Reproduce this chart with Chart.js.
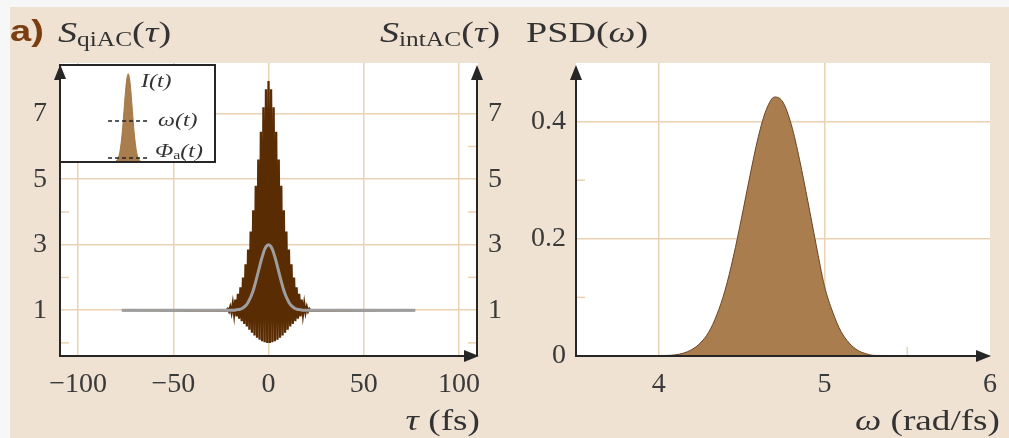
<!DOCTYPE html>
<html>
<head>
<meta charset="utf-8">
<script src="https://cdn.jsdelivr.net/npm/chart.js@4.4.1/dist/chart.umd.min.js"></script>
<style>
  html, body { margin: 0; padding: 0; }
  body { width: 1009px; height: 438px; background: #f7f7f7; position: relative; overflow: hidden;
         font-family: "Liberation Serif", serif; color: #333; }
  #panel { position: absolute; left: 10px; top: 7px; right: 0; bottom: 0; background: #efe2d2; }
  canvas { position: absolute; }
  .lbl { position: absolute; white-space: nowrap; line-height: 1; font-size: 30px;
         transform: scaleX(1.27); transform-origin: 0 50%; }
  .lbl.r { transform-origin: 100% 50%; transform: scaleX(1.24); }
  .lbl sub { font-size: 20px; vertical-align: -4px; line-height: 1; }
  .ins { position: absolute; white-space: nowrap; line-height: 1; font-size: 18px; font-style: italic;
         transform: scaleX(1.33); transform-origin: 0 50%; }
  .ins sub { font-size: 12px; vertical-align: -2px; font-style: normal; }
  #tagA { font-family: "Liberation Sans", sans-serif; font-weight: bold; color: #7a3e10; }
</style>
</head>
<body>
<div id="panel"></div>
<canvas id="left" width="520" height="438" style="left:0;top:0"></canvas>
<canvas id="psd" width="504" height="438" style="left:505px;top:0"></canvas>
<canvas id="inset" width="157" height="99" style="left:59px;top:64px"></canvas>

<div class="lbl" id="tagA" style="left:10px;top:16px">a)</div>
<div class="lbl" style="left:58px;top:17px"><i>S</i><sub>qiAC</sub>(<i>τ</i>)</div>
<div class="lbl" style="left:380px;top:17px"><i>S</i><sub>intAC</sub>(<i>τ</i>)</div>
<div class="lbl" style="left:526px;top:17px">PSD(<i>ω</i>)</div>
<div class="lbl r" style="right:529px;top:405px"><i>τ</i> (fs)</div>
<div class="lbl r" style="right:9px;top:405px"><i>ω</i> (rad/fs)</div>
<div class="ins" style="left:141px;top:72px">I(t)</div>
<div class="ins" style="left:158px;top:111px">ω(t)</div>
<div class="ins" style="left:155px;top:142px">Φ<sub>a</sub>(t)</div>

<script>
// quasi-interferometric AC, read fringe by fringe (max / min alternating)
const qiTau = [-77, -22.11, -21.44, -20.77, -20.10, -19.43, -18.76, -18.09, -17.42, -16.75, -16.08,
  -15.41, -14.74, -14.07, -13.40, -12.73, -12.06, -11.39, -10.72, -10.05, -9.38, -8.71, -8.04,
  -7.37, -6.70, -6.03, -5.36, -4.69, -4.02, -3.35, -2.68, -2.01, -1.34, -0.67, 0,
  0.67, 1.34, 2.01, 2.68, 3.35, 4.02, 4.69, 5.36, 6.03, 6.70, 7.37, 8.04, 8.71, 9.38, 10.05,
  10.72, 11.39, 12.06, 12.73, 13.40, 14.07, 14.74, 15.41, 16.08, 16.75, 17.42, 18.09, 18.76,
  19.43, 20.10, 20.77, 21.44, 22.11, 77];
const qiVal = [1, 0.99, 1.04, 0.96, 1.10, 0.92, 1.20, 0.87, 1.32, 0.81, 1.50,
  0.74, 1.70, 0.66, 2.00, 0.58, 2.40, 0.50, 2.85, 0.40, 3.40, 0.31, 4.05,
  0.23, 4.80, 0.16, 5.60, 0.10, 6.45, 0.05, 7.20, 0.02, 7.75, 0.00, 8.00,
  0.00, 7.75, 0.02, 7.20, 0.05, 6.45, 0.10, 5.60, 0.16, 4.80, 0.23, 4.05, 0.31, 3.40, 0.40,
  2.85, 0.50, 2.40, 0.58, 2.00, 0.66, 1.70, 0.74, 1.50, 0.81, 1.32, 0.87, 1.20,
  0.92, 1.10, 0.96, 1.04, 0.99, 1];

// intensity AC (grey curve)
const intTau = [-77, -18, -17, -16, -15, -14, -13, -12, -11, -10, -9, -8, -7, -6, -5, -4, -3, -2, -1, 0,
  1, 2, 3, 4, 5, 6, 7, 8, 9, 10, 11, 12, 13, 14, 15, 16, 17, 18, 77];
const intVal = [1, 1.00, 1.01, 1.02, 1.03, 1.05, 1.09, 1.14, 1.21, 1.32, 1.45, 1.61, 1.81, 2.03, 2.26, 2.49, 2.69, 2.86, 2.96, 3.00,
  2.96, 2.86, 2.69, 2.49, 2.26, 2.03, 1.81, 1.61, 1.45, 1.32, 1.21, 1.14, 1.09, 1.05, 1.03, 1.02, 1.01, 1.00, 1];

// power spectral density
const psdW = [3.5, 4.05, 4.10, 4.15, 4.20, 4.25, 4.30, 4.35, 4.40, 4.45, 4.50, 4.55, 4.60, 4.65, 4.70,
  4.75, 4.80, 4.85, 4.90, 4.95, 5.00, 5.05, 5.10, 5.15, 5.20, 5.25, 5.30, 6.0];
const psdVal = [0, 0.001, 0.002, 0.005, 0.011, 0.022, 0.040, 0.070, 0.112, 0.169, 0.236, 0.307, 0.373, 0.421, 0.442,
  0.433, 0.395, 0.335, 0.264, 0.190, 0.120, 0.075, 0.042, 0.022, 0.010, 0.004, 0.001, 0];

// inset: pulse intensity and flat frequency / phase
const insetT = [-8, -7, -6, -5, -4, -3, -2, -1, 0, 1, 2, 3, 4, 5, 6, 7, 8];
const insetI = [0.009, 0.027, 0.069, 0.157, 0.306, 0.513, 0.744, 0.929, 1, 0.929, 0.744, 0.513, 0.306, 0.157, 0.069, 0.027, 0.009];
const insetLineT = [-13, 14];
const insetOmega = [0.465, 0.465];
const insetPhase = [0.045, 0.045];

// ticks
const tauTicks = [-100, -50, 0, 50, 100];
const sTicks = [1, 3, 5, 7];
const sMinor = [0, 2, 4, 6];
const wTicks = [4, 5, 6];
const psdTicks = [0, 0.2, 0.4];
const wMinor = [4.5, 5.5];
const psdMinor = [0.1, 0.3];

const gridColor = '#ebd2b3';
const tickFont = { family: 'Liberation Serif', size: 28 };
const tickColor = '#3a3a3a';

const pts = (xs, ys) => xs.map((x, i) => ({ x: x, y: ys[i] }));
const fmt = v => (v < 0 ? '\u2212' + Math.abs(v) : String(v));

const plotBg = {
  id: 'plotBg',
  beforeDraw(chart) {
    const a = chart.chartArea, ctx = chart.ctx;
    ctx.save();
    ctx.fillStyle = '#ffffff';
    ctx.fillRect(a.left, a.top, a.right - a.left, a.bottom - a.top);
    ctx.restore();
  }
};

const minorTicks = {
  id: 'minorTicks',
  beforeDatasetsDraw(chart, args, opts) {
    const ctx = chart.ctx, a = chart.chartArea;
    ctx.save();
    ctx.strokeStyle = gridColor;
    ctx.lineWidth = 1.5;
    (opts.marks || []).forEach(m => {
      const s = chart.scales[m.scale];
      m.values.forEach(v => {
        const p = s.getPixelForValue(v);
        ctx.beginPath();
        if (m.side === 'left') { ctx.moveTo(a.left, p); ctx.lineTo(a.left + 9, p); }
        else if (m.side === 'right') { ctx.moveTo(a.right, p); ctx.lineTo(a.right - 10, p); }
        else { ctx.moveTo(p, a.bottom); ctx.lineTo(p, a.bottom - 9); }
        ctx.stroke();
      });
    });
    ctx.restore();
  }
};

function arrowUp(ctx, x, y) {
  ctx.beginPath();
  ctx.moveTo(x, y); ctx.lineTo(x - 6, y + 15); ctx.lineTo(x + 6, y + 15);
  ctx.closePath(); ctx.fill();
}
function arrowRight(ctx, x, y) {
  ctx.beginPath();
  ctx.moveTo(x, y); ctx.lineTo(x - 15, y - 6); ctx.lineTo(x - 15, y + 6);
  ctx.closePath(); ctx.fill();
}

const axes = {
  id: 'axes',
  afterDraw(chart, args, opts) {
    const ctx = chart.ctx, a = chart.chartArea;
    ctx.save();
    ctx.strokeStyle = ctx.fillStyle = '#262626';
    ctx.lineWidth = 2;
    ctx.beginPath();
    ctx.moveTo(a.left, a.top + 6); ctx.lineTo(a.left, a.bottom); ctx.lineTo(a.right - 6, a.bottom);
    if (opts.right) { ctx.moveTo(a.right - 1, a.bottom); ctx.lineTo(a.right - 1, a.top + 6); }
    ctx.stroke();
    arrowUp(ctx, a.left, a.top + 2);
    arrowRight(ctx, a.right + 1, a.bottom);
    if (opts.right) arrowUp(ctx, a.right - 1, a.top + 2);
    ctx.restore();
  }
};

const setTicks = list => scale => { scale.ticks = list.map(v => ({ value: v })); };

new Chart(document.getElementById('left'), {
  type: 'line',
  data: {
    datasets: [
      { data: pts(intTau, intVal), borderColor: '#9e9e9e', borderWidth: 3, pointRadius: 0,
        cubicInterpolationMode: 'monotone' },
      { data: pts(qiTau, qiVal), borderColor: '#5a2c03', borderWidth: 2.3, pointRadius: 0, tension: 0 }
    ]
  },
  options: {
    responsive: false, animation: false,
    layout: { padding: { top: 63, left: 0, right: 0, bottom: 0 } },
    plugins: {
      legend: { display: false }, tooltip: { enabled: false },
      axes: { right: true },
      minorTicks: { marks: [{ scale: 'y', values: sMinor, side: 'left' }, { scale: 'y', values: sMinor, side: 'right' }] }
    },
    scales: {
      x: {
        type: 'linear', min: -109.5, max: 110,
        afterBuildTicks: setTicks(tauTicks),
        afterFit: s => { s.height = 82; },
        grid: { color: gridColor, lineWidth: 1.5, drawTicks: false },
        border: { display: false },
        ticks: { padding: 12, font: tickFont, color: tickColor, callback: v => fmt(v), maxRotation: 0 }
      },
      y: {
        min: -0.4, max: 8.55, position: 'left',
        afterBuildTicks: setTicks(sTicks),
        afterFit: s => { s.width = 60; },
        grid: { color: gridColor, lineWidth: 1.5, drawTicks: false },
        border: { display: false },
        ticks: { padding: 13, font: tickFont, color: tickColor, callback: v => fmt(v) }
      },
      y2: {
        min: -0.4, max: 8.55, position: 'right',
        afterBuildTicks: setTicks(sTicks),
        afterFit: s => { s.width = 42; },
        grid: { display: false, drawTicks: false },
        border: { display: false },
        ticks: { padding: 10, font: tickFont, color: tickColor, callback: v => fmt(v) }
      }
    }
  },
  plugins: [plotBg, minorTicks, axes]
});

new Chart(document.getElementById('psd'), {
  type: 'line',
  data: {
    datasets: [
      { data: pts(psdW, psdVal), borderColor: '#6a4626', borderWidth: 1, pointRadius: 0,
        backgroundColor: '#aa7d4e', fill: 'origin', cubicInterpolationMode: 'monotone' }
    ]
  },
  options: {
    responsive: false, animation: false,
    layout: { padding: { top: 63, left: 0, right: 17, bottom: 0 } },
    plugins: {
      legend: { display: false }, tooltip: { enabled: false },
      axes: { right: false },
      minorTicks: { marks: [{ scale: 'y', values: psdMinor, side: 'left' }, { scale: 'x', values: wMinor, side: 'bottom' }] }
    },
    scales: {
      x: {
        type: 'linear', min: 3.5, max: 6,
        afterBuildTicks: setTicks(wTicks),
        afterFit: s => { s.height = 82; },
        grid: { color: c => (c.tick && c.tick.value === 6 ? 'rgba(0,0,0,0)' : gridColor), lineWidth: 1.5, drawTicks: false },
        border: { display: false },
        ticks: { padding: 12, font: tickFont, color: tickColor, callback: v => fmt(v), maxRotation: 0 }
      },
      y: {
        min: 0, max: 0.5, position: 'left',
        afterBuildTicks: setTicks(psdTicks),
        afterFit: s => { s.width = 71; },
        grid: { color: c => (c.tick && c.tick.value === 0 ? 'rgba(0,0,0,0)' : gridColor), lineWidth: 1.5, drawTicks: false },
        border: { display: false },
        ticks: { padding: 10, font: tickFont, color: tickColor, callback: v => fmt(v) }
      }
    }
  },
  plugins: [plotBg, minorTicks, axes]
});

const insetFrame = {
  id: 'insetFrame',
  afterDraw(chart) {
    const ctx = chart.ctx, a = chart.chartArea;
    ctx.save();
    ctx.strokeStyle = ctx.fillStyle = '#262626';
    ctx.lineWidth = 2;
    ctx.strokeRect(a.left, a.top, a.right - a.left, a.bottom - a.top);
    arrowUp(ctx, a.left, a.top - 1);
    ctx.restore();
  }
};

new Chart(document.getElementById('inset'), {
  type: 'line',
  data: {
    datasets: [
      { data: pts(insetLineT, insetOmega), borderColor: '#222', borderWidth: 1.4, borderDash: [4, 3], pointRadius: 0 },
      { data: pts(insetLineT, insetPhase), borderColor: '#222', borderWidth: 1.4, borderDash: [4, 3], pointRadius: 0 },
      { data: pts(insetT, insetI), borderColor: '#a47646', borderWidth: 1, pointRadius: 0,
        backgroundColor: '#aa7d4e', fill: 'origin', cubicInterpolationMode: 'monotone' }
    ]
  },
  options: {
    responsive: false, animation: false,
    layout: { padding: 1 },
    plugins: { legend: { display: false }, tooltip: { enabled: false } },
    scales: {
      x: { type: 'linear', min: -44, max: 56, display: false },
      y: { min: 0, max: 1.1, display: false }
    }
  },
  plugins: [plotBg, insetFrame]
});
</script>
</body>
</html>
